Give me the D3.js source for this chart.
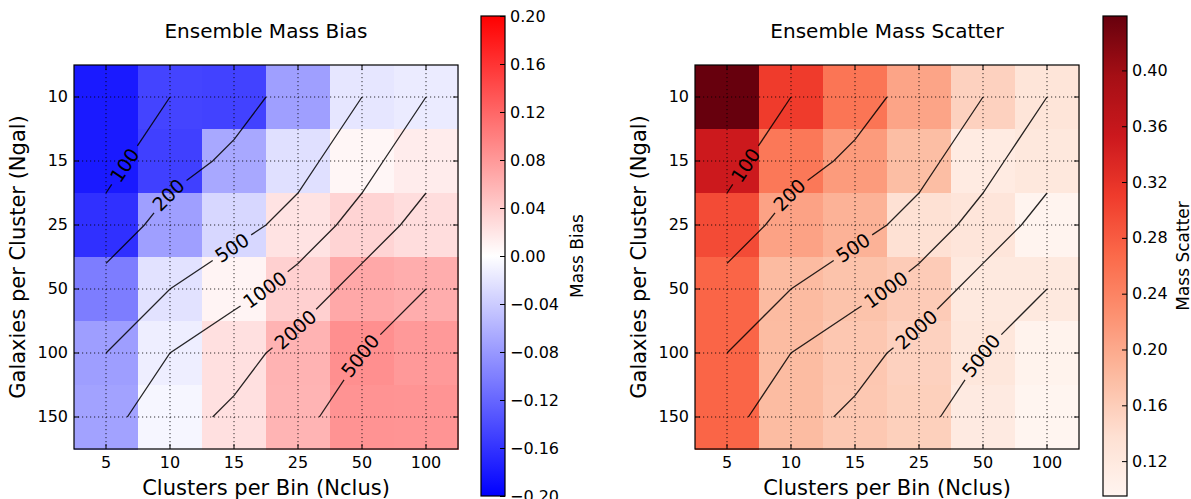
<!DOCTYPE html>
<html><head><meta charset="utf-8">
<script src="https://cdn.jsdelivr.net/npm/d3@7"></script>
<style>
body{margin:0;background:#fff;}
svg{display:block;}
text{font-family:"DejaVu Sans",sans-serif;fill:#000;}
</style></head><body>
<svg id="chart" width="1191" height="499"></svg>
<script>
// ---------- data ----------
const nclus = [5, 10, 15, 25, 50, 100];          // x categories
const ngal  = [10, 15, 25, 50, 100, 150];        // y categories
// rows follow ngal, columns follow nclus
const biasValues = [
  [-0.180, -0.147, -0.148, -0.075, -0.020, -0.016],
  [-0.180, -0.150, -0.068, -0.024,  0.007,  0.015],
  [-0.162, -0.075, -0.031,  0.022,  0.034,  0.027],
  [-0.102, -0.023,  0.009,  0.037,  0.068,  0.064],
  [-0.076, -0.013,  0.024,  0.060,  0.088,  0.080],
  [-0.073, -0.007,  0.024,  0.059,  0.085,  0.084]
];
const scatterValues = [
  [0.439, 0.310, 0.255, 0.205, 0.155, 0.128],
  [0.352, 0.252, 0.215, 0.178, 0.115, 0.122],
  [0.295, 0.207, 0.190, 0.135, 0.127, 0.097],
  [0.272, 0.181, 0.172, 0.162, 0.120, 0.120],
  [0.272, 0.180, 0.167, 0.155, 0.123, 0.100],
  [0.272, 0.180, 0.166, 0.157, 0.117, 0.095]
];
// total galaxies per bin (Nclus x Ngal) used for the contours
const totalGalaxies = [
  [ 50,  100,  150,  250,  500,  1000],
  [ 75,  150,  225,  375,  750,  1500],
  [125,  250,  375,  625, 1250,  2500],
  [250,  500,  750, 1250, 2500,  5000],
  [500, 1000, 1500, 2500, 5000, 10000],
  [750, 1500, 2250, 3750, 7500, 15000]
];
const contourLevels = [100, 200, 500, 1000, 2000, 5000];
const labelFractions = [0.29, 0.40, 0.45, 0.43, 0.39, 0.44];
const biasTicks = [0.20, 0.16, 0.12, 0.08, 0.04, 0.00, -0.04, -0.08, -0.12, -0.16, -0.20];
const scatterTicks = [0.12, 0.16, 0.20, 0.24, 0.28, 0.32, 0.36, 0.40];
const redsColors = ["#fff5f0","#fee0d2","#fcbba1","#fc9272","#fb6a4a","#ef3b2c","#cb181d","#a50f15","#67000d"];

// ---------- helpers ----------
const svg = d3.select("#chart");
const fmt = d3.format(".2f");

function contourSegments(grid, level) {
  const segs = [];
  const nr = grid.length, nc = grid[0].length;
  const t = (a, b) => (level - a) / (b - a);
  const up = v => v >= level;
  for (let r = 0; r < nr - 1; r++) for (let c = 0; c < nc - 1; c++) {
    const tl = grid[r][c], tr = grid[r][c+1], bl = grid[r+1][c], br = grid[r+1][c+1];
    const p = [];
    if (up(tl) !== up(tr)) p.push([c + t(tl, tr), r]);
    if (up(tr) !== up(br)) p.push([c + 1, r + t(tr, br)]);
    if (up(bl) !== up(br)) p.push([c + t(bl, br), r + 1]);
    if (up(tl) !== up(bl)) p.push([c, r + t(tl, bl)]);
    if (p.length === 2) segs.push(p);
    else if (p.length === 4) { segs.push([p[0], p[3]]); segs.push([p[1], p[2]]); }
  }
  return segs.filter(s => Math.hypot(s[0][0]-s[1][0], s[0][1]-s[1][1]) > 1e-9);
}
function chainSegments(segs) {
  const same = (a, b) => Math.abs(a[0]-b[0]) < 1e-9 && Math.abs(a[1]-b[1]) < 1e-9;
  const used = segs.map(() => false);
  const lines = [];
  for (let i = 0; i < segs.length; i++) {
    if (used[i]) continue;
    used[i] = true;
    let line = [segs[i][0], segs[i][1]];
    let grown = true;
    while (grown) {
      grown = false;
      for (let j = 0; j < segs.length; j++) {
        if (used[j]) continue;
        const [a, b] = segs[j];
        const head = line[0], tail = line[line.length-1];
        if (same(tail, a)) { line.push(b); }
        else if (same(tail, b)) { line.push(a); }
        else if (same(head, b)) { line.unshift(a); }
        else if (same(head, a)) { line.unshift(b); }
        else continue;
        used[j] = true; grown = true;
      }
    }
    if (line[0][1] < line[line.length-1][1]) line.reverse();
    lines.push(line);
  }
  return lines;
}
function pathTools(pts) {
  const cum = [0];
  for (let i = 1; i < pts.length; i++) cum.push(cum[i-1] + Math.hypot(pts[i][0]-pts[i-1][0], pts[i][1]-pts[i-1][1]));
  const L = cum[cum.length-1];
  const at = s => {
    s = Math.max(0, Math.min(L, s));
    let i = 1; while (i < cum.length - 1 && cum[i] < s) i++;
    const f = (s - cum[i-1]) / ((cum[i] - cum[i-1]) || 1);
    return [pts[i-1][0] + f*(pts[i][0]-pts[i-1][0]), pts[i-1][1] + f*(pts[i][1]-pts[i-1][1])];
  };
  const slice = (s0, s1) => {
    const out = [at(s0)];
    for (let i = 0; i < pts.length; i++) if (cum[i] > s0 && cum[i] < s1) out.push(pts[i]);
    out.push(at(s1));
    return out;
  };
  return {L, at, slice};
}

function drawPanel(cfg) {
  const {left, top, size, values, color, cbX, title, cbLabel, cbLabelX, cbTicks, cbDomain} = cfg;
  const g = svg.append("g");
  const x = d3.scaleBand().domain(nclus).range([left, left + size]);
  const y = d3.scaleBand().domain(ngal).range([top, top + size]);
  const bw = x.bandwidth(), bh = y.bandwidth();
  const xi = d3.scaleLinear().domain([0, nclus.length - 1]).range([x(nclus[0]) + bw/2, x(nclus[nclus.length-1]) + bw/2]);
  const yi = d3.scaleLinear().domain([0, ngal.length - 1]).range([y(ngal[0]) + bh/2, y(ngal[ngal.length-1]) + bh/2]);

  // cells
  const cells = [];
  values.forEach((row, r) => row.forEach((v, c) => cells.push({r, c, v})));
  g.append("g").selectAll("rect").data(cells).join("rect")
    .attr("x", d => x(nclus[d.c])).attr("y", d => y(ngal[d.r]))
    .attr("width", bw + 0.5).attr("height", bh + 0.5)
    .attr("shape-rendering", "crispEdges")
    .attr("fill", d => color(d.v));

  // grid
  const grid = g.append("g").attr("stroke", "#000").attr("stroke-width", 1)
    .attr("stroke-dasharray", "1.2,2.8").attr("stroke-opacity", 0.8);
  grid.selectAll(".gx").data(nclus).join("line")
    .attr("x1", d => x(d) + bw/2).attr("x2", d => x(d) + bw/2)
    .attr("y1", top).attr("y2", top + size);
  grid.selectAll(".gy").data(ngal).join("line")
    .attr("y1", d => y(d) + bh/2).attr("y2", d => y(d) + bh/2)
    .attr("x1", left).attr("x2", left + size);

  // contours
  const cg = g.append("g");
  contourLevels.forEach((lev, k) => {
    const lines = chainSegments(contourSegments(totalGalaxies, lev));
    lines.forEach(line => {
      const px = line.map(p => [xi(p[0]), yi(p[1])]);
      const tools = pathTools(px);
      const s = labelFractions[k] * tools.L;
      const txt = cg.append("text").text(d3.format("d")(lev))
        .attr("font-size", 19).attr("text-anchor", "middle").attr("dy", "0.36em");
      const w = txt.node().getComputedTextLength();
      const c = tools.at(s);
      const p1 = tools.at(s - w/2), p2 = tools.at(s + w/2);
      let ang = Math.atan2(p2[1]-p1[1], p2[0]-p1[0]) * 180 / Math.PI;
      if (ang > 90) ang -= 180; if (ang < -90) ang += 180;
      txt.attr("transform", `translate(${c[0]},${c[1]}) rotate(${ang})`);
      const gap = 5;
      const lineGen = d3.line();
      [[0, s - w/2 - gap], [s + w/2 + gap, tools.L]].forEach(([a, b]) => {
        if (b - a > 0.5) cg.append("path").attr("d", lineGen(tools.slice(a, b)))
          .attr("fill", "none").attr("stroke", "#000").attr("stroke-width", 1.3).attr("stroke-opacity", 0.85);
      });
    });
  });

  // axes (inward ticks on all sides)
  g.append("g").attr("transform", `translate(0,${top + size})`)
    .call(d3.axisBottom(x).tickSizeInner(-5).tickSizeOuter(0).tickPadding(7.5));
  g.append("g").attr("transform", `translate(${left},0)`)
    .call(d3.axisLeft(y).tickSizeInner(-5).tickSizeOuter(0).tickPadding(6));
  g.append("g").attr("transform", `translate(0,${top})`)
    .call(d3.axisTop(x).tickSizeInner(-5).tickSizeOuter(0).tickFormat(""));
  g.append("g").attr("transform", `translate(${left + size},0)`)
    .call(d3.axisRight(y).tickSizeInner(-5).tickSizeOuter(0).tickFormat(""));
  g.selectAll(".domain").remove();
  g.selectAll(".tick line").attr("stroke", "#000");
  g.selectAll(".tick text").attr("font-size", 16).attr("font-family", "DejaVu Sans").attr("fill", "#000");

  g.append("rect").attr("x", left).attr("y", top).attr("width", size).attr("height", size)
    .attr("fill", "none").attr("stroke", "#000").attr("stroke-width", 1.2);

  // titles and labels
  g.append("text").attr("x", left + size/2).attr("y", 38).attr("text-anchor", "middle")
    .attr("font-size", 20).text(title);
  g.append("text").attr("x", left + size/2).attr("y", 495).attr("text-anchor", "middle")
    .attr("font-size", 21).text("Clusters per Bin (Nclus)");
  g.append("text").attr("transform", `translate(${left - 49},${top + size/2}) rotate(-90)`)
    .attr("text-anchor", "middle").attr("font-size", 21).text("Galaxies per Cluster (Ngal)");

  // colorbar
  const cbTop = 16, cbBot = 496, cbW = 24;
  const cs = d3.scaleLinear().domain(cbDomain).range([cbBot, cbTop]);
  const gid = "grad" + cbX;
  const grad = svg.append("defs").append("linearGradient").attr("id", gid)
    .attr("x1", 0).attr("y1", 1).attr("x2", 0).attr("y2", 0);
  grad.selectAll("stop").data(d3.range(0, 1.0001, 1/64)).join("stop")
    .attr("offset", d => d)
    .attr("stop-color", d => color(cbDomain[0] + d * (cbDomain[1] - cbDomain[0])));
  g.append("rect").attr("x", cbX).attr("y", cbTop).attr("width", cbW).attr("height", cbBot - cbTop)
    .attr("fill", `url(#${gid})`).attr("stroke", "#000").attr("stroke-width", 1.2);
  const cax = g.append("g").attr("transform", `translate(${cbX + cbW},0)`)
    .call(d3.axisRight(cs).tickValues(cbTicks).tickFormat(fmt).tickSizeInner(-5).tickSizeOuter(0).tickPadding(5));
  cax.select(".domain").remove();
  cax.selectAll(".tick line").attr("stroke", "#000");
  cax.selectAll(".tick text").attr("font-size", 16).attr("font-family", "DejaVu Sans").attr("fill", "#000");
  g.append("text").attr("transform", `translate(${cbLabelX},${(cbTop + cbBot)/2}) rotate(-90)`)
    .attr("text-anchor", "middle").attr("font-size", 17).text(cbLabel);
}

// ---------- colour scales ----------
const bwr = d3.scaleLinear().domain([-0.2, 0, 0.2]).range(["#0000ff", "#ffffff", "#ff0000"]).clamp(true);
const sMin = d3.min(scatterValues.flat()), sMax = d3.max(scatterValues.flat());
const reds = d3.scaleLinear()
  .domain(redsColors.map((_, i) => sMin + i * (sMax - sMin) / (redsColors.length - 1)))
  .range(redsColors).clamp(true);

drawPanel({left: 74, top: 65, size: 384, values: biasValues, color: bwr, cbX: 481,
  title: "Ensemble Mass Bias", cbLabel: "Mass Bias", cbLabelX: 583, cbTicks: biasTicks, cbDomain: [-0.2, 0.2]});
drawPanel({left: 695, top: 65, size: 384, values: scatterValues, color: reds, cbX: 1103,
  title: "Ensemble Mass Scatter", cbLabel: "Mass Scatter", cbLabelX: 1189, cbTicks: scatterTicks, cbDomain: [sMin, sMax]});
</script>
</body></html>
